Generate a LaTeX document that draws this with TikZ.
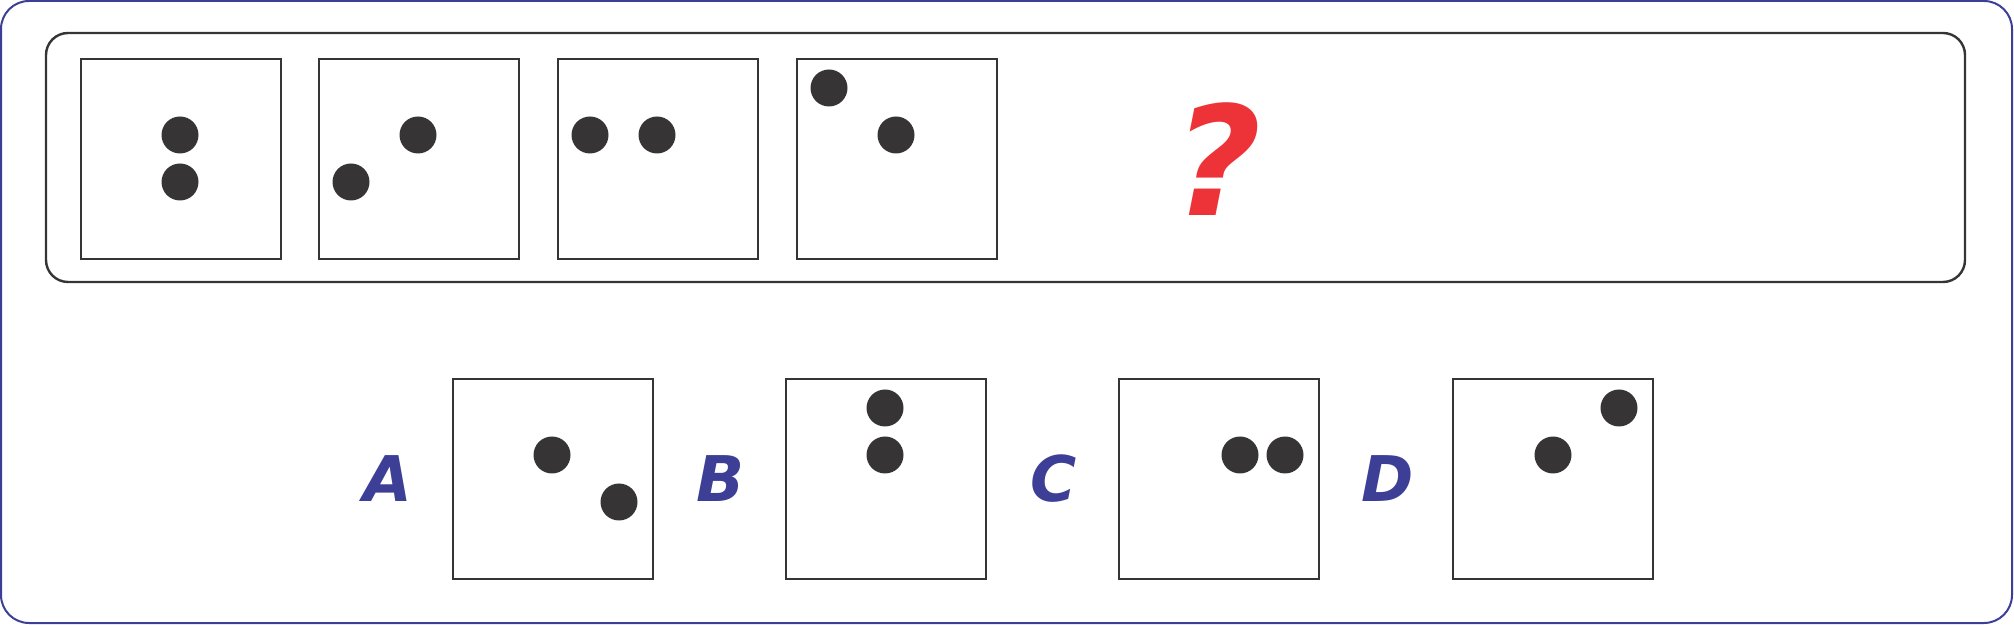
\documentclass[tikz,border=0pt]{standalone}
\usepackage{fontspec}
\setmainfont{DejaVu Sans}
\usepackage{tikz}
\usetikzlibrary{positioning}
\definecolor{framegray}{HTML}{363435}
\definecolor{optblue}{HTML}{3D3F96}
\definecolor{askred}{HTML}{EE3338}
\tikzstyle{panel} = [draw=framegray, line width=1pt, minimum width=100pt, minimum height=100pt, inner sep=0pt, anchor=north west]
\tikzstyle{spot} = [circle, fill=framegray, minimum size=18.5pt, inner sep=0pt]
\tikzstyle{choice} = [text=optblue, inner sep=0pt, font=\fontsize{31.5}{32}\selectfont\bfseries\itshape]
\newcommand{\panel}[3]{
node (p#1) [panel] at (#2,#3) {}}
\newcommand{\spot}[3]{
  \node [spot] at ([shift={(#2)}]p#1.north west) {};
  \node [spot] at ([shift={(#3)}]p#1.north west) {};}

\begin{document}
\begin{tikzpicture}[x=0.5pt, y=-0.5pt]
		\useasboundingbox (0,0) rectangle (2014,625);
		
		% Draw frames
		\draw [optblue, line width=1pt, rounded corners=14pt] (1,1) rectangle (2012,623);
		\draw [framegray, line width=1.2pt, rounded corners=11pt] (46,33) rectangle (1965,282);
		
		% Draw question row
		\path \panel{1}{80}{58};
		\path \panel{2}{318}{58};
		\path \panel{3}{557}{58};
		\path \panel{4}{796}{58};
		\node (ask) [text=askred, inner sep=0pt, font=\fontsize{76}{76}\selectfont\bfseries\itshape]
			at ([xshift=110pt]p4.east) {?};
		
		% Draw answer row
		\path \panel{a}{452}{378};
		\path \panel{b}{785}{378};
		\path \panel{c}{1118}{378};
		\path \panel{d}{1452}{378};
		\node (la) [choice] at ([xshift=-32pt]pa.west) {A};
		\node (lb) [choice] at ([xshift=-32pt]pb.west) {B};
		\node (lc) [choice] at ([xshift=-32pt]pc.west) {C};
		\node (ld) [choice] at ([xshift=-32pt]pd.west) {D};
		
		% Draw dots
		\spot{1}{100,77}{100,124}
		\spot{2}{100,77}{33,124}
		\spot{3}{33,77}{100,77}
		\spot{4}{33,30}{100,77}
		\spot{a}{100,77}{167,124}
		\spot{b}{100,30}{100,77}
		\spot{c}{122,77}{167,77}
		\spot{d}{101,77}{167,30}
		
	\end{tikzpicture}
\end{document}
